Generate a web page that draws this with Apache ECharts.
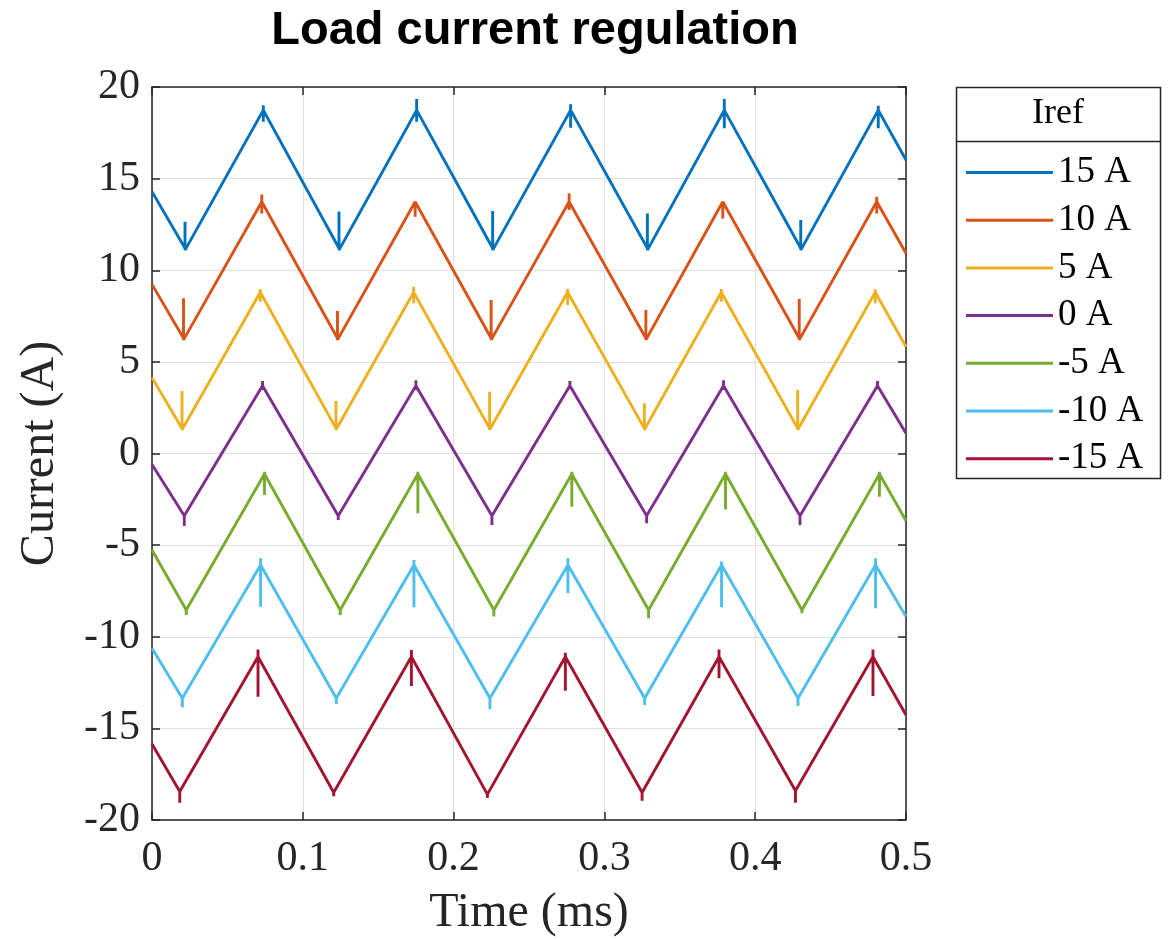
<!DOCTYPE html>
<html>
<head>
<meta charset="utf-8">
<title>Load current regulation</title>
<script src="https://cdn.jsdelivr.net/npm/echarts@6/dist/echarts.min.js"></script>
<style>
  html, body { margin: 0; padding: 0; background: #fff; }
  #chart { width: 1176px; height: 940px; }
</style>
</head>
<body>
<div id="chart"></div>
<script>
// vertex times (ms): start, trough, peak, ... , end
var times = [0, 0.0219, 0.0738, 0.1240, 0.1755, 0.2259, 0.2776, 0.3285, 0.3795, 0.4302, 0.4816, 0.5];

var names  = ['15 A', '10 A', '5 A', '0 A', '-5 A', '-10 A', '-15 A'];
var colors = ['#0072BD', '#D95319', '#EDB120', '#7E2F8E', '#77AC30', '#4DBEEE', '#A2142F'];
// small time lag of each trace against the 15 A trace (ms)
var lags   = [0, -0.001, -0.002, -0.0005, 0.0008, -0.0018, -0.0035];

// value at each vertex, then the top / bottom of the switching glitch at that vertex
var i15  = [14.29, 11.2, 18.74, 11.2, 18.74, 11.2, 18.74, 11.2, 18.74, 11.2, 18.74, 16.02];
var i15H = [null, 12.65, 19.0, 13.2, 19.35, 13.23, 19.06, 13.1, 19.35, 12.74, 18.98, null];
var i15L = [null, 11.1, 18.1, 11.1, 18.1, 11.1, 17.78, 11.1, 17.75, 11.1, 17.75, null];

var i10  = [9.23, 6.29, 13.74, 6.29, 13.74, 6.29, 13.74, 6.29, 13.74, 6.29, 13.74, 10.93];
var i10H = [null, 8.47, 14.14, 7.78, 13.83, 8.38, 14.2, 7.83, 13.83, 8.43, 14.01, null];
var i10L = [null, 6.2, 13.1, 6.2, 12.92, 6.2, 13.29, 6.2, 12.83, 6.2, 13.1, null];

var i5  = [4.14, 1.37, 8.8, 1.37, 8.8, 1.37, 8.8, 1.37, 8.8, 1.37, 8.8, 5.83];
var i5H = [null, 3.41, 8.98, 2.86, 9.1, 3.37, 8.98, 2.74, 8.98, 3.47, 8.96, null];
var i5L = [null, 1.3, 8.28, 1.3, 8.2, 1.3, 8.1, 1.3, 8.28, 1.3, 8.2, null];

var i0  = [-0.6, -3.4, 3.7, -3.4, 3.7, -3.4, 3.7, -3.4, 3.7, -3.4, 3.7, 1.1];
var i0H = [null, -3.3, 3.95, -3.3, 4.0, -3.3, 3.95, -3.3, 4.0, -3.3, 3.95, null];
var i0L = [null, -3.96, 3.47, -3.63, 3.47, -3.9, 3.5, -3.8, 3.47, -3.9, 3.5, null];

var im5  = [-5.27, -8.54, -1.12, -8.54, -1.12, -8.54, -1.12, -8.54, -1.12, -8.54, -1.12, -3.67];
var im5H = [null, -8.45, -0.99, -8.45, -0.99, -8.45, -0.99, -8.45, -0.99, -8.45, -0.99, null];
var im5L = [null, -8.81, -2.26, -8.81, -3.26, -8.9, -2.9, -8.99, -3.05, -8.72, -2.36, null];

var im10  = [-10.63, -13.36, -6.08, -13.36, -6.08, -13.36, -6.08, -13.36, -6.08, -13.36, -6.08, -8.9];
var im10H = [null, -13.3, -5.72, -13.3, -5.81, -13.3, -5.72, -13.3, -5.9, -13.3, -5.72, null];
var im10L = [null, -13.85, -8.36, -13.67, -8.39, -13.96, -7.63, -13.72, -8.39, -13.78, -8.45, null];

var im15  = [-15.85, -18.45, -11.09, -18.5, -11.09, -18.6, -11.09, -18.5, -11.09, -18.4, -11.09, -14.27];
var im15H = [null, -18.4, -10.69, -18.4, -10.72, -18.5, -10.87, -18.4, -10.69, -18.3, -10.69, null];
var im15L = [null, -19.06, -13.27, -18.7, -12.69, -18.8, -12.94, -18.95, -12.27, -19.06, -13.23, null];

var traces = [
  [i15, i15H, i15L], [i10, i10H, i10L], [i5, i5H, i5L], [i0, i0H, i0L],
  [im5, im5H, im5L], [im10, im10H, im10L], [im15, im15H, im15L]
];

function buildPoints(lag, vals, hi, lo) {
  var last = times.length - 1;
  var pts = [[times[0], vals[0]]];
  for (var k = 1; k < last; k++) {
    var t = times[k] + lag;
    pts.push([t, vals[k]], [t, hi[k]], [t, lo[k]], [t, vals[k]]);
  }
  pts.push([times[last], vals[last]]);
  return pts;
}

var serif = '"Liberation Serif", "DejaVu Serif", serif';
var axisCol = '#262626';

var series = [];
for (var s = 0; s < names.length; s++) {
  series.push({
    name: names[s],
    type: 'line',
    data: buildPoints(lags[s], traces[s][0], traces[s][1], traces[s][2]),
    showSymbol: false,
    color: colors[s],
    lineStyle: { width: 2.9, color: colors[s] },
    silent: true
  });
}

// box axes (top / right) only carry the inward ticks
function boxAxis(extra) {
  var a = {
    type: 'value',
    axisLine: { show: true, onZero: false, lineStyle: { color: axisCol, width: 1.5 } },
    axisTick: { show: true, inside: true, length: 8, lineStyle: { color: axisCol, width: 1.5 } },
    axisLabel: { show: false },
    splitLine: { show: false }
  };
  for (var k in extra) a[k] = extra[k];
  return a;
}

var myChart = echarts.init(document.getElementById('chart'));
var option = {
  animation: false,
  backgroundColor: '#fff',
  title: {
    text: 'Load current regulation',
    left: 530,
    top: 3,
    textAlign: 'center',
    textStyle: { fontFamily: '"Liberation Sans", Arial, sans-serif', fontWeight: 'bold', fontSize: 47, color: '#000' }
  },
  grid: { left: 152, right: 270, top: 87, bottom: 120, containLabel: false, outerBoundsMode: 'none' },
  legend: {
    orient: 'vertical',
    left: 966,
    top: 154,
    padding: 0,
    itemWidth: 87,
    itemHeight: 3,
    itemGap: 10.7,
    icon: 'rect',
    selectedMode: false,
    data: names,
    textStyle: { fontFamily: serif, fontSize: 37, lineHeight: 36, color: '#000' }
  },
  xAxis: [{
    type: 'value',
    min: 0, max: 0.5, interval: 0.1,
    name: 'Time (ms)',
    nameLocation: 'middle',
    nameGap: 69,
    nameTextStyle: { fontFamily: serif, fontSize: 48, color: axisCol },
    axisLine: { show: true, onZero: false, lineStyle: { color: axisCol, width: 1.5 } },
    axisTick: { show: true, inside: true, length: 8, lineStyle: { color: axisCol, width: 1.5 } },
    axisLabel: { fontFamily: serif, fontSize: 42, color: axisCol, margin: 18 },
    splitLine: { show: true, lineStyle: { color: '#e0e0e0', width: 1 } }
  }, boxAxis({ position: 'top', min: 0, max: 0.5, interval: 0.1 })],
  yAxis: [{
    type: 'value',
    min: -20, max: 20, interval: 5,
    name: 'Current (A)',
    nameLocation: 'middle',
    nameGap: 88,
    nameTextStyle: { fontFamily: serif, fontSize: 48, color: axisCol },
    axisLine: { show: true, onZero: false, lineStyle: { color: axisCol, width: 1.5 } },
    axisTick: { show: true, inside: true, length: 8, lineStyle: { color: axisCol, width: 1.5 } },
    axisLabel: { fontFamily: serif, fontSize: 42, color: axisCol, margin: 12 },
    splitLine: { show: true, lineStyle: { color: '#e0e0e0', width: 1 } }
  }, boxAxis({ position: 'right', min: -20, max: 20, interval: 5 })],
  graphic: [
    { type: 'rect', shape: { x: 956.5, y: 87.5, width: 204, height: 391 },
      style: { fill: 'none', stroke: axisCol, lineWidth: 1.5 }, z: 10 },
    { type: 'line', shape: { x1: 956.5, y1: 141.5, x2: 1160.5, y2: 141.5 },
      style: { stroke: axisCol, lineWidth: 1.5 }, z: 10 },
    { type: 'text', x: 1058, y: 114, z: 10,
      style: { text: 'Iref', fontFamily: serif, fontSize: 36, fill: '#000', textAlign: 'center', textVerticalAlign: 'middle' } }
  ],
  series: series
};
myChart.setOption(option);
</script>
</body>
</html>
